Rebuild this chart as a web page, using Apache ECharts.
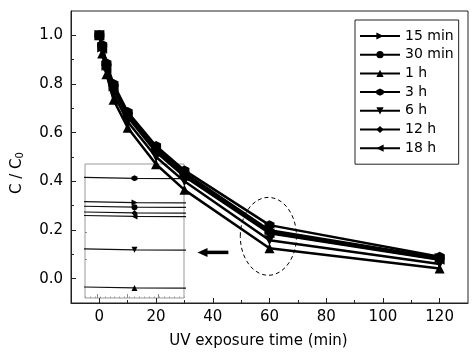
<!DOCTYPE html>
<html><head><meta charset="utf-8">
<script src="https://cdn.jsdelivr.net/npm/echarts@6/dist/echarts.min.js"></script>
<style>html,body{margin:0;padding:0;background:#fff}#c{width:475px;height:356px}</style>
</head><body><div id="c"></div>
<script>
// ---- data ----
const times = [0, 1, 2.5, 5, 10, 20, 30, 60, 120];
const seriesNames = ['15 min', '30 min', '1 h', '3 h', '6 h', '12 h', '18 h'];
const v15min = [1.0, 0.950, 0.875, 0.790, 0.675, 0.535, 0.435, 0.199, 0.085];
const v30min = [1.0, 0.950, 0.870, 0.785, 0.670, 0.530, 0.430, 0.195, 0.083];
const v1h    = [1.0, 0.925, 0.840, 0.735, 0.620, 0.470, 0.365, 0.125, 0.042];
const v3h    = [1.0, 0.960, 0.885, 0.800, 0.685, 0.545, 0.445, 0.220, 0.090];
const v6h    = [1.0, 0.945, 0.855, 0.760, 0.645, 0.500, 0.400, 0.158, 0.060];
const v12h   = [1.0, 0.955, 0.880, 0.790, 0.680, 0.530, 0.430, 0.190, 0.080];
const v18h   = [1.0, 0.945, 0.865, 0.780, 0.665, 0.520, 0.420, 0.187, 0.078];
const seriesValues = [v15min, v30min, v1h, v3h, v6h, v12h, v18h];

const xTickLabels = [0, 20, 40, 60, 80, 100, 120];
const xMinorTicks = [10, 30, 50, 70, 90, 110];
const yTickLabels = [0, 0.2, 0.4, 0.6, 0.8, 1.0];
const yMinorTicks = [0.1, 0.3, 0.5, 0.7, 0.9];
// inset (zoom of the 60 min region)
const insetXMajorTicks = [59.925, 59.986, 60.047];
const insetYTicks = [0.150, 0.173, 0.196];

// ---- styles ----
const FONT = 'DejaVu Sans';
const hexagon = 'path://M0,-10L8.66,-5L8.66,5L0,10L-8.66,5L-8.66,-5Z';
const symbols = [
  {symbol: 'triangle', rotate: -90, size: 10},
  {symbol: 'circle', rotate: 0, size: 9},
  {symbol: 'triangle', rotate: 0, size: 10},
  {symbol: hexagon, rotate: 0, size: 10},
  {symbol: 'triangle', rotate: 180, size: 10},
  {symbol: 'diamond', rotate: 0, size: 10},
  {symbol: 'triangle', rotate: 90, size: 10}
];

const series = [];
seriesNames.forEach((name, i) => {
  const data = times.map((t, j) => [t, seriesValues[i][j]]);
  series.push({
    type: 'line', name, data, xAxisIndex: 0, yAxisIndex: 0,
    symbol: symbols[i].symbol, symbolRotate: symbols[i].rotate, symbolSize: symbols[i].size,
    showAllSymbol: true,
    lineStyle: {color: '#000', width: 2.5}, itemStyle: {color: '#000'},
    z: 5
  });
});
seriesNames.forEach((name, i) => {
  const data = times.map((t, j) => [t, seriesValues[i][j]]);
  series.push({
    type: 'line', name, data, xAxisIndex: 2, yAxisIndex: 2, clip: true, silent: true,
    symbol: symbols[i].symbol, symbolRotate: symbols[i].rotate, symbolSize: 6,
    lineStyle: {color: '#111', width: 1.2}, itemStyle: {color: '#000'},
    z: 3
  });
});

const chart = echarts.init(document.getElementById('c'), null, {renderer: 'canvas'});
chart.setOption({
  animation: false,
  textStyle: {fontFamily: FONT, color: '#000'},
  grid: [
    {left: 71, right: 7, top: 11, bottom: 53, show: true, borderColor: '#222', borderWidth: 1, outerBoundsMode: 'none'},
    {left: 85, top: 164, width: 99, height: 134, show: true, borderColor: '#999', borderWidth: 1, backgroundColor: 'transparent', outerBoundsMode: 'none'}
  ],
  legend: {
    data: seriesNames, orient: 'vertical', left: 355, top: 20,
    itemWidth: 40, itemHeight: 9, itemGap: 4.7, padding: [9, 5, 9, 4],
    borderColor: '#222', borderWidth: 1, backgroundColor: '#fff',
    textStyle: {fontFamily: FONT, fontSize: 14, color: '#000'},
    selectedMode: false
  },
  xAxis: [
    {gridIndex: 0, type: 'value', min: -10, max: 130, position: 'bottom',
      axisLine: {show: true, onZero: false, lineStyle: {color: '#222', width: 1}},
      axisTick: {show: true, inside: true, length: 5, customValues: xTickLabels, lineStyle: {color: '#222'}},
      axisLabel: {customValues: xTickLabels, margin: 7, fontSize: 15, color: '#000', fontFamily: FONT},
      splitLine: {show: false},
      name: 'UV exposure time (min)', nameLocation: 'middle', nameGap: 31,
      nameTextStyle: {fontSize: 15, color: '#000', fontFamily: FONT, padding: [0, 22, 0, 0]}},
    {gridIndex: 0, type: 'value', min: -10, max: 130, position: 'bottom',
      axisLine: {show: false, onZero: false},
      axisTick: {show: true, inside: true, length: 3, customValues: xMinorTicks, lineStyle: {color: '#222'}},
      axisLabel: {show: false}, splitLine: {show: false}},
    {gridIndex: 1, type: 'value', min: 59.9, max: 60.1, position: 'bottom',
      axisLine: {show: false, onZero: false},
      axisTick: {show: true, inside: true, length: 4, customValues: insetXMajorTicks, lineStyle: {color: '#888'}},
      axisLabel: {show: false}, splitLine: {show: false}},
    {gridIndex: 1, type: 'value', min: 59.9, max: 60.1, interval: 0.01, position: 'bottom',
      axisLine: {show: false, onZero: false},
      axisTick: {show: true, inside: true, length: 1.5, lineStyle: {color: '#999'}},
      axisLabel: {show: false}, splitLine: {show: false}}
  ],
  yAxis: [
    {gridIndex: 0, type: 'value', min: -0.1, max: 1.1, position: 'left',
      axisLine: {show: true, onZero: false, lineStyle: {color: '#222', width: 1}},
      axisTick: {show: true, inside: true, length: 5, customValues: yTickLabels, lineStyle: {color: '#222'}},
      axisLabel: {customValues: yTickLabels, margin: 8, fontSize: 15, color: '#000', fontFamily: FONT,
        formatter: v => v.toFixed(1)},
      splitLine: {show: false},
      name: '{a|C / C}{s|0}', nameLocation: 'middle', nameGap: 46,
      nameTextStyle: {padding: [0, 32, 0, 0], rich: {
        a: {fontSize: 15, lineHeight: 18, verticalAlign: 'bottom', color: '#000', fontFamily: FONT},
        s: {fontSize: 10, lineHeight: 12, verticalAlign: 'bottom', color: '#000', fontFamily: FONT}
      }}},
    {gridIndex: 0, type: 'value', min: -0.1, max: 1.1, position: 'left',
      axisLine: {show: false, onZero: false},
      axisTick: {show: true, inside: true, length: 3, customValues: yMinorTicks, lineStyle: {color: '#222'}},
      axisLabel: {show: false}, splitLine: {show: false}},
    {gridIndex: 1, type: 'value', min: 0.1163, max: 0.2324, position: 'left',
      axisLine: {show: false, onZero: false},
      axisTick: {show: true, inside: true, length: 2, customValues: insetYTicks, lineStyle: {color: '#888'}},
      axisLabel: {show: false}, splitLine: {show: false}}
  ],
  series
});

// annotations: dashed ellipse around the 60 min points, arrow toward the inset
const P = (x, y) => chart.convertToPixel({xAxisIndex: 0, yAxisIndex: 0}, [x, y]);
const c = P(59.6, 0.174), ex = P(69.5, 0.174), ey = P(59.6, 0.334);
const tail = P(45.5, 0.108), tip = P(34.6, 0.108);
const headLen = 10, headHalf = 4.5;
chart.setOption({
  graphic: [
    {type: 'ellipse', z: 10, shape: {cx: c[0], cy: c[1], rx: Math.abs(ex[0] - c[0]), ry: Math.abs(c[1] - ey[1])},
      style: {fill: 'none', stroke: '#000', lineWidth: 1, lineDash: [4, 3]}},
    {type: 'line', z: 10, shape: {x1: tail[0], y1: tail[1], x2: tip[0] + headLen - 1, y2: tip[1]},
      style: {stroke: '#000', lineWidth: 3.5}},
    {type: 'polygon', z: 10, shape: {points: [[tip[0], tip[1]], [tip[0] + headLen, tip[1] - headHalf], [tip[0] + headLen, tip[1] + headHalf]]},
      style: {fill: '#000'}}
  ]
});
</script>
</body></html>
